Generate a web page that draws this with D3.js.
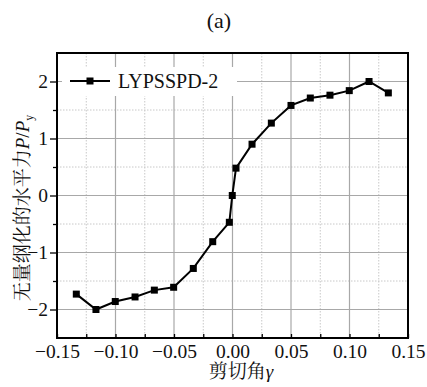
<!DOCTYPE html>
<html>
<head>
<meta charset="utf-8">
<script src="https://cdn.jsdelivr.net/npm/d3@7"></script>
<style>
  html, body { margin: 0; padding: 0; background: #fff; }
  svg { display: block; }
  text { font-family: "Liberation Serif", "Times New Roman", "Noto Serif CJK SC", "Noto Sans CJK SC", serif; fill: #111; }
</style>
</head>
<body>
<svg id="chart" width="427" height="387"></svg>
<script>
// Shear angle γ and normalized horizontal force P/Py for specimen LYPSSPD-2
const gamma = [-0.1335, -0.1167, -0.1002, -0.0833, -0.0668, -0.0503, -0.0335, -0.0169, -0.0027, -0.0002,
               0.003, 0.0167, 0.0332, 0.0500, 0.0665, 0.0833, 0.0998, 0.1167, 0.1332];
const force = [-1.73, -2.00, -1.86, -1.78, -1.66, -1.61, -1.28, -0.81, -0.47, 0.00,
               0.48, 0.90, 1.27, 1.58, 1.71, 1.76, 1.84, 2.00, 1.80];
const seriesName = "LYPSSPD-2";
const xTicks = [-0.15, -0.10, -0.05, 0.00, 0.05, 0.10, 0.15];
const xMinor = [-0.125, -0.075, -0.025, 0.025, 0.075, 0.125];
const yTicks = [-2, -1, 0, 1, 2];
const yMinor = [-1.5, -0.5, 0.5, 1.5];

const svg = d3.select("#chart");
const L = 57, R = 408, T = 53, B = 338;
const x = d3.scaleLinear().domain([-0.15, 0.15]).range([L, R]);
const y = d3.scaleLinear().domain([-2.5, 2.5]).range([B, T]);
const fmtX = d => (d < 0 ? "\u2212" : "") + Math.abs(d).toFixed(2);
const fmtY = d => (d < 0 ? "\u2212" : "") + Math.abs(d);

// grid
const grid = svg.append("g");
grid.selectAll(".vmin").data(xMinor).join("line")
  .attr("x1", d => x(d)).attr("x2", d => x(d)).attr("y1", T).attr("y2", B)
  .attr("stroke", "#c8c8c8").attr("stroke-width", 1).attr("stroke-dasharray", "1.5,1.5");
grid.selectAll(".hmin").data(yMinor).join("line")
  .attr("y1", d => y(d)).attr("y2", d => y(d)).attr("x1", L).attr("x2", R)
  .attr("stroke", "#c8c8c8").attr("stroke-width", 1).attr("stroke-dasharray", "1.5,1.5");
grid.selectAll(".vmaj").data(xTicks.slice(1, -1)).join("line")
  .attr("x1", d => x(d)).attr("x2", d => x(d)).attr("y1", T).attr("y2", B)
  .attr("stroke", "#a8a8a8").attr("stroke-width", 1.2);
grid.selectAll(".hmaj").data(yTicks).join("line")
  .attr("y1", d => y(d)).attr("y2", d => y(d)).attr("x1", L).attr("x2", R)
  .attr("stroke", "#a8a8a8").attr("stroke-width", 1.2);

// legend background covers the grid
svg.append("rect").attr("x", 62).attr("y", 67).attr("width", 175).attr("height", 29).attr("fill", "#fff");

// axes
const xAxis = svg.append("g").attr("transform", `translate(0,${B})`)
  .call(d3.axisBottom(x).tickValues(xTicks).tickFormat(fmtX).tickSizeInner(-4).tickSizeOuter(0));
svg.append("g").attr("transform", `translate(0,${B})`)
  .call(d3.axisBottom(x).tickValues(xMinor).tickFormat("").tickSizeInner(-4).tickSizeOuter(0))
  .call(g => g.select(".domain").remove());
xAxis.selectAll("text").attr("dy", null).attr("y", 20).style("font-size", "19.5px");

const yAxis = svg.append("g").attr("transform", `translate(${L},0)`)
  .call(d3.axisLeft(y).tickValues(yTicks).tickFormat(fmtY).tickSizeInner(7).tickSizeOuter(0));
svg.append("g").attr("transform", `translate(${L},0)`)
  .call(d3.axisLeft(y).tickValues(yMinor).tickFormat("").tickSizeInner(4).tickSizeOuter(0))
  .call(g => g.select(".domain").remove());
yAxis.selectAll("text").attr("x", -9).style("font-size", "19.5px");
svg.selectAll(".tick line").attr("stroke", "#000").attr("stroke-width", 1.3);
svg.selectAll(".domain").remove();

// frame
svg.append("rect").attr("x", L).attr("y", T).attr("width", R - L).attr("height", B - T)
  .attr("fill", "none").attr("stroke", "#000").attr("stroke-width", 2);

// series
const pts = gamma.map((g, i) => [g, force[i]]);
svg.append("path").datum(pts)
  .attr("d", d3.line().x(d => x(d[0])).y(d => y(d[1])))
  .attr("fill", "none").attr("stroke", "#000").attr("stroke-width", 2);
const ms = 7;
svg.selectAll(".pt").data(pts).join("rect")
  .attr("x", d => x(d[0]) - ms / 2).attr("y", d => y(d[1]) - ms / 2)
  .attr("width", ms).attr("height", ms).attr("fill", "#000");

// legend
svg.append("line").attr("x1", 70).attr("x2", 110).attr("y1", 81).attr("y2", 81)
  .attr("stroke", "#000").attr("stroke-width", 2);
svg.append("rect").attr("x", 90 - ms / 2).attr("y", 81 - ms / 2).attr("width", ms).attr("height", ms).attr("fill", "#000");
svg.append("text").attr("x", 118).attr("y", 88).style("font-size", "20px").text(seriesName);

// title
svg.append("text").attr("x", 219).attr("y", 28).attr("text-anchor", "middle").style("font-size", "22px").text("(a)");

// axis titles
const xt = svg.append("text").attr("x", 241).attr("y", 378).attr("text-anchor", "middle").style("font-size", "19px");
xt.append("tspan").text("剪切角");
xt.append("tspan").attr("font-style", "italic").text("γ");

const yt = svg.append("text").attr("transform", "translate(29,208) rotate(-90)")
  .attr("text-anchor", "middle").style("font-size", "19px");
yt.append("tspan").text("无量纲化的水平力");
yt.append("tspan").attr("font-style", "italic").text("P");
yt.append("tspan").text("/");
yt.append("tspan").attr("font-style", "italic").text("P");
yt.append("tspan").attr("font-size", "12px").attr("dy", 4).text("y");
</script>
</body>
</html>
